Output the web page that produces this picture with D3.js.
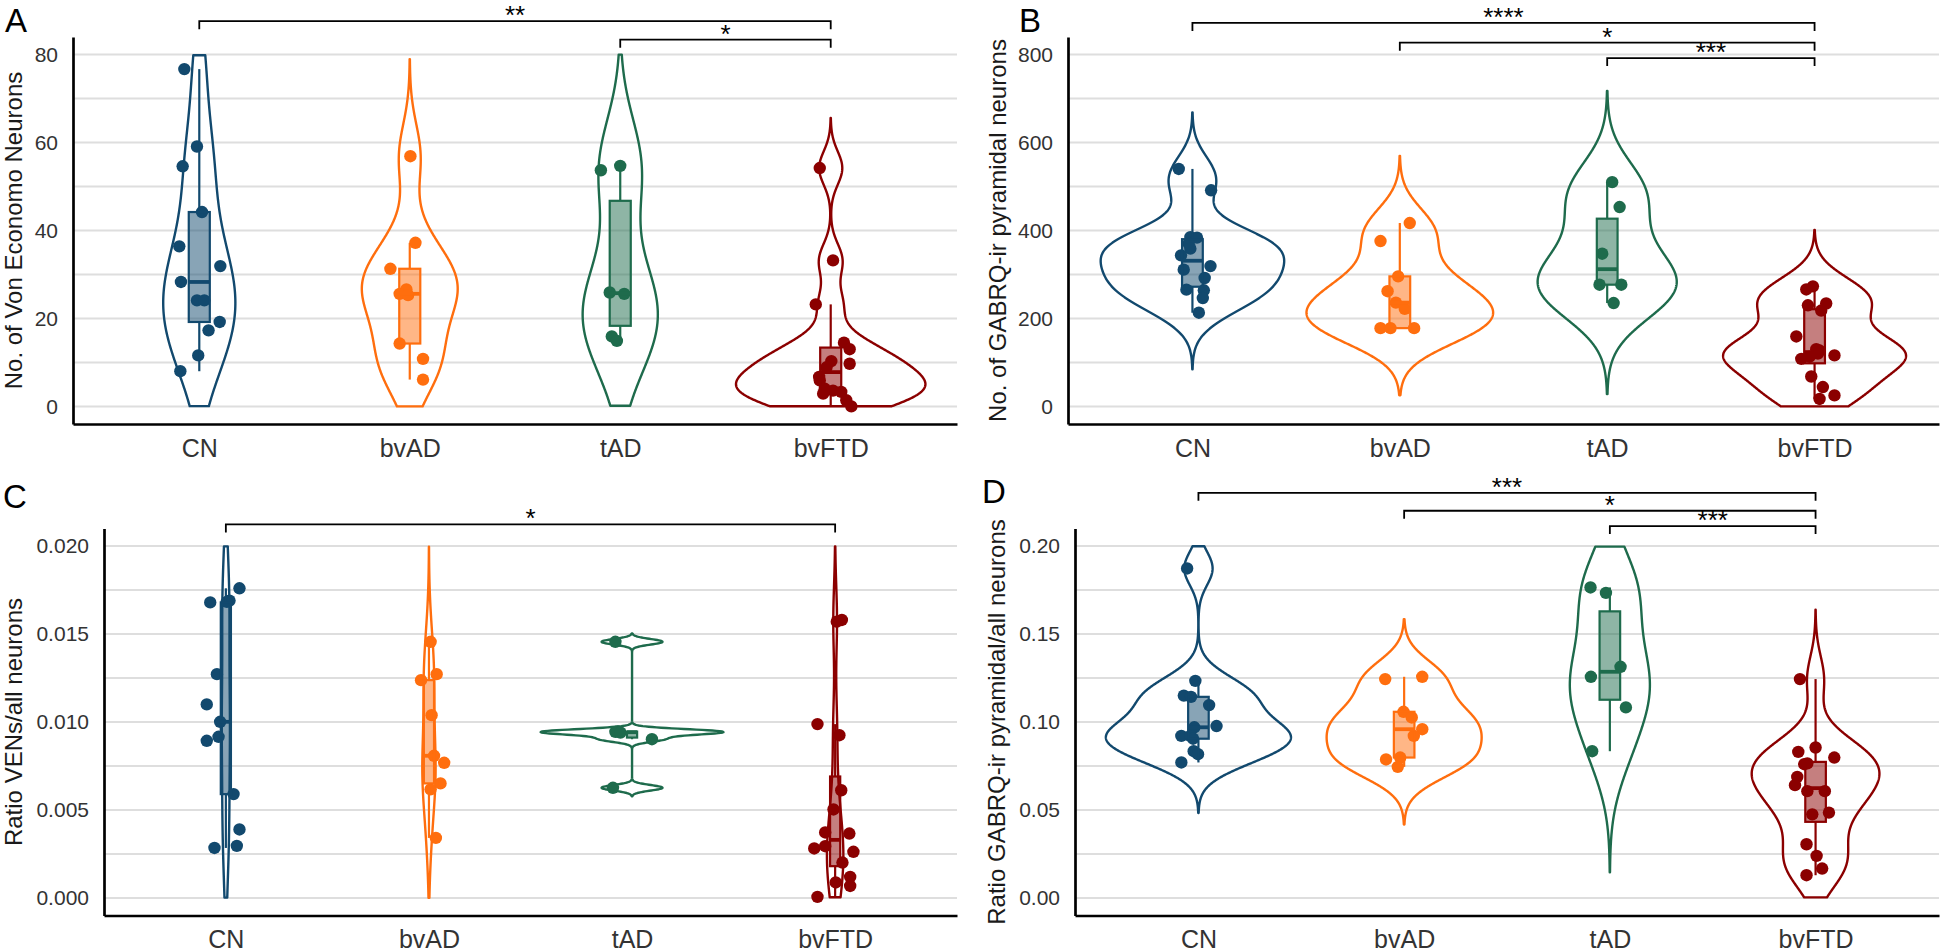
<!DOCTYPE html>
<html><head><meta charset="utf-8">
<script src="https://cdn.jsdelivr.net/npm/d3@7"></script>
<style>
body{margin:0;background:#fff}
svg{display:block}
text{font-family:"Liberation Sans",Arial,sans-serif}
</style>
</head><body>
<svg id="c" width="1944" height="952"></svg>
<script>
// ---------- data ----------
const categories = ["CN", "bvAD", "tAD", "bvFTD"];
const colors = ["#12496e", "#ff6e0e", "#1e6b4c", "#8b0000"];

// each point: [value, horizontal jitter in category units]
const A_CN = [[76.7,-0.071],[59.1,-0.011],[54.6,-0.079],[44.2,0.013],[36.4,-0.095],[31.9,0.10],[28.3,-0.087],[24.1,-0.011],[24.1,0.024],[19.2,0.097],[17.3,0.044],[11.6,-0.005],[8.0,-0.09]];
const A_bvAD = [[56.9,0.003],[37.2,0.027],[31.3,-0.092],[26.6,-0.016],[25.6,-0.048],[25.3,-0.008],[14.3,-0.048],[10.8,0.063],[6.1,0.063]];
const A_tAD = [[54.7,0.0],[53.7,-0.092],[25.9,-0.05],[25.6,0.019],[15.9,-0.04],[14.9,-0.016]];
const A_bvFTD = [[54.2,-0.052],[33.2,0.011],[23.2,-0.071],[14.5,0.063],[13.0,0.09],[10.3,0.003],[9.7,0.09],[8.9,-0.02],[6.7,-0.055],[5.9,-0.052],[4.0,-0.028],[3.6,0.011],[3.3,0.05],[2.9,-0.036],[1.4,0.074],[0.0,0.098]];

const B_CN = [[540,-0.066],[491.4,0.09],[385,-0.01],[383.7,0.022],[370,-0.018],[358.7,-0.01],[343.5,-0.055],[319,0.087],[311,-0.042],[292,0.059],[265.5,-0.029],[264,0.055],[246.4,0.05],[213,0.031]];
const B_bvAD = [[417,0.048],[376,-0.093],[295.7,-0.008],[262,-0.059],[236,-0.019],[222,0.024],[178,-0.093],[178,-0.045],[178,0.069]];
const B_tAD = [[510,0.024],[453.4,0.06],[347.3,-0.024],[276.8,-0.037],[276.8,0.068],[235,0.031]];
const B_bvFTD = [[273,-0.008],[266,-0.04],[234,0.056],[230,-0.032],[218,0.032],[159,-0.088],[130,0.008],[127,0.024],[120,0.016],[116,0.096],[113,-0.024],[108,-0.064],[68,-0.016],[44,0.04],[25,0.096],[17,0.024]];

const C_CN = [[0.0176,0.067],[0.0169,0.018],[0.01683,0.005],[0.0168,-0.077],[0.01272,-0.044],[0.0110,-0.094],[0.01001,-0.028],[0.00916,-0.036],[0.00893,-0.094],[0.0059,0.038],[0.00389,0.067],[0.00296,0.054],[0.00284,-0.056]];
const C_bvAD = [[0.01456,0.008],[0.01272,0.038],[0.01238,-0.039],[0.01039,0.013],[0.00808,0.025],[0.00768,0.075],[0.00651,0.057],[0.00617,0.008],[0.00341,0.034]];
const C_tAD = [[0.01456,-0.082],[0.00946,-0.07],[0.00944,-0.082],[0.00940,-0.057],[0.00902,0.098],[0.00626,-0.094]];
const C_bvFTD = [[0.0158,0.033],[0.0157,0.008],[0.00988,-0.087],[0.00925,0.021],[0.00612,0.03],[0.00503,-0.008],[0.00372,-0.049],[0.00366,0.07],[0.00294,-0.049],[0.00281,-0.103],[0.00262,0.09],[0.00201,0.036],[0.00119,0.074],[0.00088,0.003],[0.00068,0.074],[0.00006,-0.087]];

const D_CN = [[0.1873,-0.055],[0.1234,-0.015],[0.1150,-0.071],[0.1143,-0.036],[0.1096,0.052],[0.0977,0.088],[0.0970,-0.02],[0.0921,-0.083],[0.0921,-0.039],[0.0905,-0.026],[0.0834,-0.023],[0.0817,-0.002],[0.0770,-0.083]];
const D_bvAD = [[0.1257,0.088],[0.1244,-0.092],[0.1058,-0.003],[0.1026,0.037],[0.0959,0.088],[0.0921,0.047],[0.0798,-0.019],[0.0787,-0.088],[0.0745,-0.031]];
const D_tAD = [[0.1765,-0.094],[0.1734,-0.019],[0.1314,0.052],[0.1257,-0.092],[0.1083,0.078],[0.0834,-0.086]];
const D_bvFTD = [[0.1244,-0.076],[0.0855,0.0],[0.0830,-0.084],[0.0798,0.091],[0.0765,-0.04],[0.0760,-0.055],[0.0688,-0.089],[0.0641,-0.1],[0.0607,-0.04],[0.0607,0.045],[0.0485,0.065],[0.0475,-0.016],[0.0305,-0.044],[0.0239,0.005],[0.0167,0.032],[0.0129,-0.044]];

const ticksA = [0, 20, 40, 60, 80];
const ticksB = [0, 200, 400, 600, 800];
const ticksC = [0, 0.005, 0.010, 0.015, 0.020];
const ticksD = [0, 0.05, 0.10, 0.15, 0.20];
const gridA = [0,10,20,30,40,50,60,70,80];
const gridB = [0,100,200,300,400,500,600,700,800];
const gridC = [0,0.0025,0.005,0.0075,0.01,0.0125,0.015,0.0175,0.02];
const gridD = [0,0.025,0.05,0.075,0.1,0.125,0.15,0.175,0.2];

// [group1, group2, label, y position (data units)]
const bracketsA = [["CN","bvFTD","**",87.6],["tAD","bvFTD","*",83.4]];
const bracketsB = [["CN","bvFTD","****",872],["bvAD","bvFTD","*",827],["tAD","bvFTD","***",792]];
const bracketsC = [["CN","bvFTD","*",0.02123]];
const bracketsD = [["CN","bvFTD","***",0.2303],["bvAD","bvFTD","*",0.2201],["tAD","bvFTD","***",0.2114]];

const titles = ["No. of Von Economo Neurons", "No. of GABRQ-ir pyramidal neurons", "Ratio VENs/all neurons", "Ratio GABRQ-ir pyramidal/all neurons"];
const letters = ["A", "B", "C", "D"];

// ---------- layout ----------
const panels = [
  {letter:letters[0], lx:5, ly:32, x0:73, x1:957, y0:37, y1:424, lim:[0,80], ticks:ticksA, fmt:d3.format("d"), grid:gridA, title:titles[0], tx:14, data:[A_CN,A_bvAD,A_tAD,A_bvFTD], br:bracketsA, boxW:0.1},
  {letter:letters[1], lx:1019, ly:32, x0:1068, x1:1939, y0:37, y1:424, lim:[0,800], ticks:ticksB, fmt:d3.format("d"), grid:gridB, title:titles[1], tx:998, data:[B_CN,B_bvAD,B_tAD,B_bvFTD], br:bracketsB, boxW:0.1},
  {letter:letters[2], lx:3, ly:508, x0:104, x1:957, y0:528.5, y1:915.5, lim:[0,0.02], ticks:ticksC, fmt:d3.format(".3f"), grid:gridC, title:titles[2], tx:14, data:[C_CN,C_bvAD,C_tAD,C_bvFTD], br:bracketsC, boxW:0.05},
  {letter:letters[3], lx:982, ly:503, x0:1075, x1:1939, y0:528.5, y1:915.5, lim:[0,0.2], ticks:ticksD, fmt:d3.format(".2f"), grid:gridD, title:titles[3], tx:997, data:[D_CN,D_bvAD,D_tAD,D_bvFTD], br:bracketsD, boxW:0.1}
];

// ---------- stats (as ggplot: bw.nrd0, gaussian kde, cut = 3) ----------
function q7(s, p){ const h=(s.length-1)*p, lo=Math.floor(h), hi=Math.min(lo+1,s.length-1); return s[lo]+(h-lo)*(s[hi]-s[lo]); }
function bwNrd0(v){
  const s=v.slice().sort((a,b)=>a-b);
  const sd=d3.deviation(v), iqr=q7(s,.75)-q7(s,.25);
  let lo=Math.min(sd, iqr/1.34);
  if(!(lo>0)) lo = sd || Math.abs(s[0]) || 1;
  return 0.9*lo*Math.pow(v.length,-0.2);
}
function kde(v, bw){
  const lo=d3.min(v)-3*bw, hi=d3.max(v)+3*bw, out=[];
  for(let i=0;i<512;i++){
    const t=lo+(hi-lo)*i/511; let d=0;
    for(const x of v){ const z=(t-x)/bw; d+=Math.exp(-0.5*z*z); }
    out.push([t, d/(v.length*bw*Math.sqrt(2*Math.PI))]);
  }
  return out;
}

const svg = d3.select("#c");

function render(p){
  const g = svg.append("g");
  const x = d3.scalePoint().domain(categories).range([p.x0,p.x1]).padding(0.6);
  const span = p.lim[1]-p.lim[0];
  const y = d3.scaleLinear().domain([p.lim[0]-0.05*span, p.lim[1]+0.05*span]).range([p.y1,p.y0]);
  const step = x.step();

  // grid
  g.append("g").selectAll("line").data(p.grid).join("line")
    .attr("x1",p.x0).attr("x2",p.x1).attr("y1",d=>y(d)).attr("y2",d=>y(d))
    .attr("stroke","#dedede").attr("stroke-width",2);

  const groups = p.data.map((pts,i)=>{
    const v = pts.map(d=>d[0]);
    const dens = kde(v, bwNrd0(v));
    return {cat:categories[i], color:colors[i], pts, v, dens};
  });
  const maxD = d3.max(groups, gr=>d3.max(gr.dens, d=>d[1]));
  const w = d3.scaleLinear().domain([0,maxD]).range([0,0.45*step]);

  // violins
  groups.forEach(gr=>{
    const cx = x(gr.cat);
    const dd = gr.dens.filter(d=>d[0]>=p.lim[0] && d[0]<=p.lim[1]);
    const pts = dd.map(d=>[cx-w(d[1]), y(d[0])]).concat(dd.slice().reverse().map(d=>[cx+w(d[1]), y(d[0])]));
    g.append("path").attr("d", d3.line()(pts)+"Z")
      .attr("fill","none").attr("stroke",gr.color).attr("stroke-width",2.4).attr("stroke-linejoin","round");
  });

  // points
  groups.forEach(gr=>{
    const cx = x(gr.cat);
    g.append("g").selectAll("circle").data(gr.pts).join("circle")
      .attr("cx",d=>cx+d[1]*step).attr("cy",d=>y(d[0])).attr("r",6.2).attr("fill",gr.color);
  });

  // boxplots
  groups.forEach(gr=>{
    const cx = x(gr.cat);
    const s = gr.v.slice().sort((a,b)=>a-b);
    const q1=q7(s,.25), md=q7(s,.5), q3=q7(s,.75), iqr=q3-q1;
    const up = d3.max(s.filter(v=>v<=q3+1.5*iqr)), dn = d3.min(s.filter(v=>v>=q1-1.5*iqr));
    const bw = p.boxW*step;
    const bg = g.append("g").attr("stroke",gr.color);
    bg.append("line").attr("x1",cx).attr("x2",cx).attr("y1",y(q3)).attr("y2",y(up)).attr("stroke-width",2.2);
    bg.append("line").attr("x1",cx).attr("x2",cx).attr("y1",y(q1)).attr("y2",y(dn)).attr("stroke-width",2.2);
    bg.append("rect").attr("x",cx-bw/2).attr("width",bw).attr("y",y(q3)).attr("height",Math.max(0.5,y(q1)-y(q3)))
      .attr("fill",gr.color).attr("fill-opacity",0.5).attr("stroke-width",2.2);
    bg.append("line").attr("x1",cx-bw/2).attr("x2",cx+bw/2).attr("y1",y(md)).attr("y2",y(md)).attr("stroke-width",3.8);
  });

  // axes
  const ya = g.append("g").attr("transform",`translate(${p.x0},0)`)
    .call(d3.axisLeft(y).tickValues(p.ticks).tickFormat(p.fmt).tickSize(0).tickSizeOuter(0).tickPadding(15));
  ya.select(".domain").attr("stroke","#000").attr("stroke-width",2.7);
  ya.selectAll("text").attr("font-size",21).attr("fill","#333").attr("font-family","Liberation Sans, Arial, sans-serif");
  const xa = g.append("g").attr("transform",`translate(0,${p.y1})`)
    .call(d3.axisBottom(x).tickSize(0).tickSizeOuter(0).tickPadding(15));
  xa.select(".domain").attr("stroke","#000").attr("stroke-width",2.7);
  xa.selectAll("text").attr("font-size",25).attr("fill","#333").attr("font-family","Liberation Sans, Arial, sans-serif");

  // y title
  g.append("text").attr("transform",`translate(${p.tx},${(p.y0+p.y1)/2}) rotate(-90)`)
    .attr("text-anchor","middle").attr("dy","0.35em").attr("font-size",24).attr("fill","#1a1a1a").text(p.title);

  // significance brackets
  const tip = 8;
  p.br.forEach(b=>{
    const xa1 = x(b[0]), xa2 = x(b[1]), yy = y(b[3]);
    g.append("path").attr("d",`M${xa1},${yy+tip}V${yy}H${xa2}V${yy+tip}`)
      .attr("fill","none").attr("stroke","#000").attr("stroke-width",1.8);
    g.append("text").attr("x",(xa1+xa2)/2).attr("y",yy+3).attr("text-anchor","middle")
      .attr("font-family","Liberation Serif, Times New Roman, serif").attr("font-size",26).attr("fill","#000").text(b[2]);
  });

  // panel letter
  svg.append("text").attr("x",p.lx).attr("y",p.ly).attr("font-size",33).attr("fill","#000").text(p.letter);
}

panels.forEach(render);
</script>
</body></html>
